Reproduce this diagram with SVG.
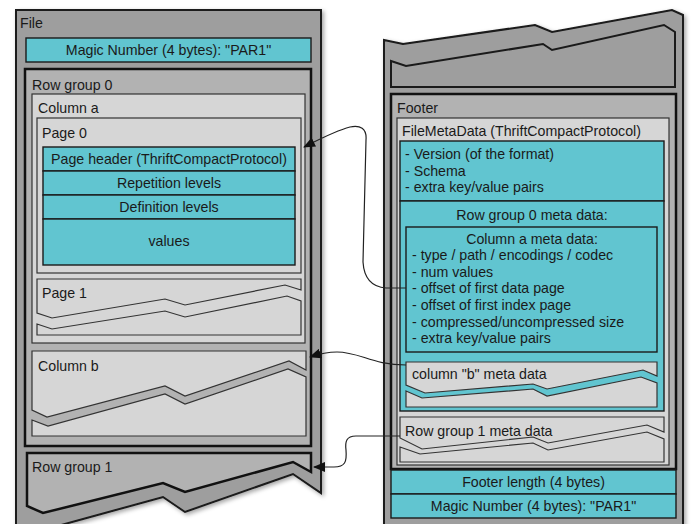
<svg xmlns="http://www.w3.org/2000/svg" width="691" height="524" viewBox="0 0 691 524">
<style>
text{font-family:"Liberation Sans",Arial,sans-serif;font-size:14.2px;fill:#1a1a1a}
.c{text-anchor:middle}
.outer{fill:#9e9e9e;stroke:#1a1a1a;stroke-width:2}
.rg{fill:#b2b2b2;stroke:#111;stroke-width:2.5}
.lg{fill:#d6d6d6;stroke:#333;stroke-width:1.2}
.teal{fill:#61c5d0;stroke:#1a1a1a;stroke-width:1.4}
.conn{fill:none;stroke:#222;stroke-width:1.2}
</style>
<defs>
<filter id="sh" x="-10%" y="-10%" width="120%" height="120%">
<feDropShadow dx="2" dy="2" stdDeviation="2" flood-color="#000" flood-opacity="0.35"/>
</filter>
<marker id="arr" markerUnits="userSpaceOnUse" markerWidth="12" markerHeight="10" refX="11" refY="5" orient="auto">
<path d="M0,0 L12,5 L0,10 Z" fill="#111"/>
</marker>
</defs>

<g id="file">
<path class="outer" filter="url(#sh)" d="M16,10 L321,10 L321,493 L293,474 L185,512 L163,497 L43,530 L16,530 Z"/>
<text x="20" y="28">File</text>
</g>
<g id="magic-top">
<rect class="teal" x="26" y="38" width="285" height="24"/>
<text class="c" x="168.5" y="55">Magic Number (4 bytes): "PAR1"</text>
</g>
<g id="row-group-0">
<rect class="rg" x="25" y="69" width="286" height="377"/>
<text x="32" y="90">Row group 0</text>
</g>
<g id="column-a">
<rect class="lg" x="32" y="94" width="273" height="249"/>
<text x="38" y="113">Column a</text>
</g>
<g id="page-0">
<rect class="lg" x="37" y="118" width="264" height="155"/>
<text x="42" y="138">Page 0</text>
<rect class="teal" x="43" y="147" width="252" height="24"/>
<text class="c" x="169" y="164">Page header (ThriftCompactProtocol)</text>
<rect class="teal" x="43" y="171" width="252" height="24"/>
<text class="c" x="169" y="188">Repetition levels</text>
<rect class="teal" x="43" y="195" width="252" height="24"/>
<text class="c" x="169" y="212">Definition levels</text>
<rect class="teal" x="43" y="219" width="252" height="46"/>
<text class="c" x="169" y="246">values</text>
</g>
<g id="page-1">
<path class="lg" d="M37,279 L301,279 L301,290 L285,285 L185,305 L165,299 L52,318 L37,313 Z"/>
<path class="lg" d="M37,324 L52,329 L165,311 L185,317 L287,296 L301,301 L301,335 L37,335 Z"/>
<text x="42" y="298">Page 1</text>
</g>
<g id="column-b">
<path class="lg" d="M32,351 L306,351 L306,370 L289,361 L185,396 L165,386 L47,417 L32,410 Z"/>
<path class="lg" d="M32,420 L48,426 L165,394 L185,404 L288,369 L306,377 L306,436 L32,436 Z"/>
<text x="38" y="371">Column b</text>
</g>
<g id="row-group-1">
<path class="rg" d="M27,453 L311,453 L311,472 L293,462 L185,492 L163,483 L43,513 L27,506 Z"/>
<text x="32" y="472">Row group 1</text>
</g>

<g id="file-end">
<path class="outer" filter="url(#sh)" d="M384,40 L403,44 L535,25 L552,32 L672,10 L683,15 L683,530 L384,530 Z"/>
<path class="outer" d="M391,61 L406,66 L543,44 L552,50 L664,25 L675,32 L675,87 L391,87 Z"/>
</g>
<g id="footer">
<rect class="rg" x="391" y="94" width="285" height="375" stroke-width="1.8"/>
<text x="397" y="113">Footer</text>
</g>
<g id="filemetadata">
<rect class="lg" x="397" y="118" width="272" height="347" stroke="#222"/>
<text x="402" y="136">FileMetaData (ThriftCompactProtocol)</text>
<rect class="teal" x="400" y="141" width="264" height="60"/>
<text x="405" y="159">- Version (of the format)</text>
<text x="405" y="176">- Schema</text>
<text x="405" y="192">- extra key/value pairs</text>
<rect class="teal" x="400" y="201" width="264" height="210"/>
<text class="c" x="532" y="220">Row group 0 meta data:</text>
</g>
<g id="column-a-meta">
<rect class="teal" x="406" y="227" width="251" height="125"/>
<text class="c" x="532" y="244">Column a meta data:</text>
<text x="412" y="260">- type / path / encodings /  codec</text>
<text x="412" y="277">- num values</text>
<text x="412" y="293">- offset of first data page</text>
<text x="412" y="310">- offset of first index page</text>
<text x="412" y="327">- compressed/uncompressed size</text>
<text x="412" y="343">- extra key/value pairs</text>
</g>
<g id="column-b-meta">
<path class="lg" d="M406,362 L657,362 L657,376 L643,370 L547,389 L533,384 L425,393 L406,385 Z"/>
<path class="lg" d="M406,391 L422,398 L533,389 L547,396 L641,377 L657,383 L657,407 L406,407 Z"/>
<text x="412" y="379">column "b" meta data</text>
</g>
<g id="row-group-1-meta">
<path class="lg" d="M400,417 L664,417 L664,432 L647,425 L548,443 L533,437 L422,449 L400,438 Z"/>
<path class="lg" d="M400,447 L420,454 L533,443 L548,450 L647,432 L664,439 L664,462 L400,462 Z"/>
<text x="405" y="436">Row group 1 meta data</text>
</g>
<g id="footer-length">
<rect class="teal" x="391" y="470" width="285" height="24"/>
<text class="c" x="533.5" y="487">Footer length (4 bytes)</text>
</g>
<g id="magic-bottom">
<rect class="teal" x="391" y="494" width="285" height="24"/>
<text class="c" x="533.5" y="511">Magic Number (4 bytes): "PAR1"</text>
</g>

<g id="connectors">
<path class="conn" marker-end="url(#arr)" d="M406,288 L386,288 C372,287 364,278 363,262 L366,140 C367,128 360,125 350,127 C335,131 320,139 304,147"/>
<path class="conn" marker-end="url(#arr)" d="M406,365 C372,365 360,352 337,352 C326,352 319,354 310,357"/>
<path class="conn" marker-end="url(#arr)" d="M400,436 L356,436 C346,436 345,442 346,450 C347,462 345,467 334,467 L314,467"/>
</g>
</svg>
